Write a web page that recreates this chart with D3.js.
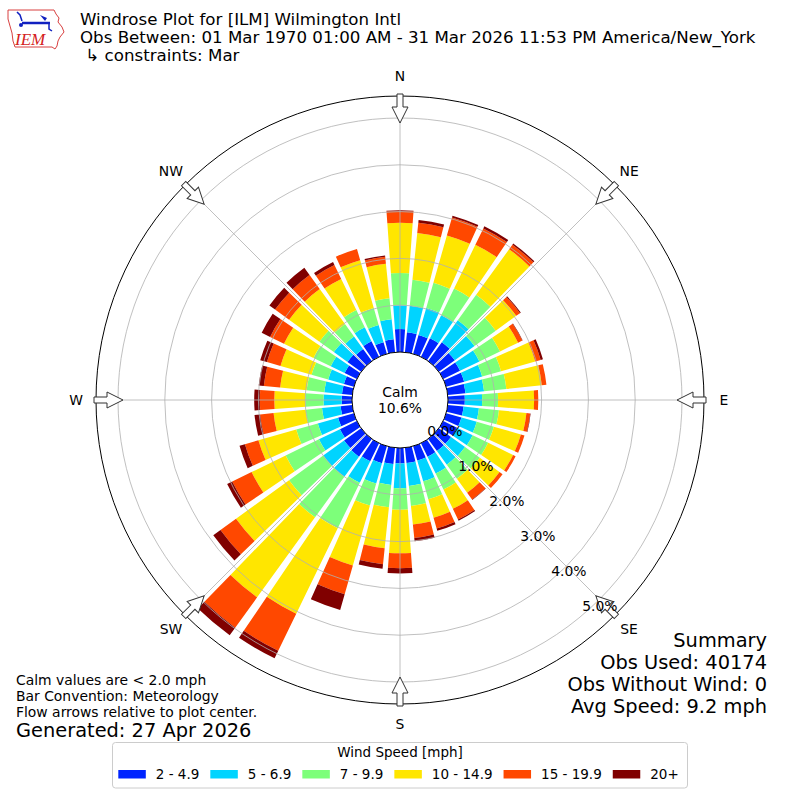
<!DOCTYPE html>
<html>
<head>
<meta charset="utf-8">
<script src="https://cdn.jsdelivr.net/npm/d3@7"></script>
<style>
  body { margin: 0; background: #fff; }
  text { font-family: "DejaVu Sans", sans-serif; fill: #000; }
</style>
</head>
<body>
<div id="chart"></div>
<script>
// direction of each bar, degrees clockwise from north
var directions = [0, 10, 20, 30, 40, 50, 60, 70, 80, 90, 100, 110, 120, 130, 140, 150, 160, 170,
                  180, 190, 200, 210, 220, 230, 240, 250, 260, 270, 280, 290, 300, 310, 320, 330, 340, 350];

var speedBins = ["2 - 4.9", "5 - 6.9", "7 - 9.9", "10 - 14.9", "15 - 19.9", "20+"];
var binColors = ["#0024ff", "#00d4ff", "#7dff7a", "#ffe600", "#ff4800", "#800000"];

// percent of observations per direction, one array per speed bin
var spd2to5   = [0.49, 0.43, 0.42, 0.44, 0.50, 0.42, 0.40, 0.40, 0.38, 0.36, 0.34, 0.34, 0.33, 0.32, 0.32, 0.32, 0.32, 0.33,
                 0.33, 0.35, 0.38, 0.43, 0.47, 0.45, 0.40, 0.35, 0.25, 0.22, 0.22, 0.22, 0.29, 0.36, 0.32, 0.37, 0.26, 0.28];
var spd5to7   = [0.51, 0.57, 0.60, 0.55, 0.58, 0.52, 0.46, 0.40, 0.40, 0.37, 0.33, 0.34, 0.37, 0.37, 0.36, 0.40, 0.46, 0.49,
                 0.53, 0.45, 0.45, 0.51, 0.53, 0.55, 0.50, 0.45, 0.40, 0.39, 0.38, 0.35, 0.33, 0.36, 0.33, 0.33, 0.38, 0.43];
var spd7to10  = [0.69, 0.56, 0.56, 0.63, 0.67, 0.56, 0.49, 0.42, 0.48, 0.34, 0.43, 0.38, 0.37, 0.39, 0.37, 0.38, 0.40, 0.43,
                 0.46, 0.48, 0.49, 1.08, 1.07, 0.90, 0.79, 0.48, 0.35, 0.39, 0.38, 0.37, 0.41, 0.38, 0.33, 0.41, 0.38, 0.45];
var spd10to15 = [1.07, 1.00, 1.05, 1.04, 1.20, 0.54, 0.43, 0.76, 0.76, 0.77, 0.59, 0.60, 0.59, 0.52, 0.37, 0.46, 0.41, 0.40,
                 0.93, 0.88, 1.33, 2.03, 2.11, 1.40, 0.81, 0.84, 0.69, 0.66, 0.57, 0.69, 0.70, 0.80, 0.92, 0.74, 1.06, 0.74];
var spd15to20 = [0.25, 0.22, 0.40, 0.39, 0.12, 0.10, 0.10, 0.12, 0.10, 0.09, 0.08, 0.08, 0.06, 0.08, 0.18, 0.25, 0.24, 0.29,
                 0.32, 0.34, 0.64, 0.88, 0.80, 0.41, 0.46, 0.30, 0.29, 0.31, 0.35, 0.30, 0.33, 0.37, 0.37, 0.33, 0.25, 0.15];
var spd20plus = [0.02, 0.06, 0.04, 0.05, 0.03, 0.02, 0.01, 0.05, 0.00, 0.00, 0.01, 0.00, 0.00, 0.00, 0.01, 0.03, 0.05, 0.07,
                 0.11, 0.10, 0.35, 0.18, 0.20, 0.19, 0.12, 0.12, 0.12, 0.12, 0.11, 0.15, 0.20, 0.15, 0.19, 0.07, 0.00, 0.03];

var ringTicks = [0, 1, 2, 3, 4, 5];
var compassLabels = ["N", "NE", "E", "SE", "S", "SW", "W", "NW"];
var compassAngles = [0, 45, 90, 135, 180, 225, 270, 315];
var calmPct = 10.6;

var titleLines = ["Windrose Plot for [ILM] Wilmington Intl",
                  "Obs Between: 01 Mar 1970 01:00 AM - 31 Mar 2026 11:53 PM America/New_York",
                  " \u21b3 constraints: Mar"];
var summaryLines = ["Summary", "Obs Used: 40174", "Obs Without Wind: 0", "Avg Speed: 9.2 mph"];
var noteLines = ["Calm values are < 2.0 mph", "Bar Convention: Meteorology", "Flow arrows relative to plot center."];
var generatedText = "Generated: 27 Apr 2026";

var W = 800, H = 800, cx = 400, cy = 400;
var rCalm = 48, rOuter = 304;
var opening = 0.82;

var svg = d3.select("#chart").append("svg")
    .attr("width", W).attr("height", H)
    .attr("xmlns", "http://www.w3.org/2000/svg");

var r = d3.scaleLinear().domain([0, 5]).range([rCalm, 282]);
var ang = d3.scaleLinear().domain([0, 360]).range([0, 2 * Math.PI]);

var keys = speedBins;
var rows = directions.map(function (d, i) {
    var o = { dir: d };
    o[keys[0]] = spd2to5[i];
    o[keys[1]] = spd5to7[i];
    o[keys[2]] = spd7to10[i];
    o[keys[3]] = spd10to15[i];
    o[keys[4]] = spd15to20[i];
    o[keys[5]] = spd20plus[i];
    return o;
});
var stacked = d3.stack().keys(keys)(rows);

var g = svg.append("g").attr("transform", "translate(" + cx + "," + cy + ")");

// bars
var halfW = ang(10) * opening / 2;
var arc = d3.arc()
    .innerRadius(function (d) { return r(d[0]); })
    .outerRadius(function (d) { return r(d[1]); })
    .startAngle(function (d) { return ang(d.data.dir) - halfW; })
    .endAngle(function (d) { return ang(d.data.dir) + halfW; });

g.selectAll("g.layer")
    .data(stacked)
    .enter().append("g")
    .attr("class", "layer")
    .attr("fill", function (d, i) { return binColors[i]; })
    .selectAll("path")
    .data(function (d) { return d; })
    .enter().append("path")
    .attr("d", arc);

// grid
g.selectAll("circle.grid")
    .data(ringTicks.slice(1))
    .enter().append("circle")
    .attr("class", "grid")
    .attr("r", function (d) { return r(d); })
    .attr("fill", "none")
    .attr("stroke", "#b0b0b0")
    .attr("stroke-width", 0.8);

g.selectAll("line.spoke")
    .data(compassAngles)
    .enter().append("line")
    .attr("class", "spoke")
    .attr("x1", 0).attr("y1", 0)
    .attr("x2", function (d) { return rOuter * Math.sin(ang(d)); })
    .attr("y2", function (d) { return -rOuter * Math.cos(ang(d)); })
    .attr("stroke", "#b0b0b0")
    .attr("stroke-width", 0.8);

g.append("circle")
    .attr("r", rOuter)
    .attr("fill", "none")
    .attr("stroke", "#000")
    .attr("stroke-width", 1);

// calm circle
g.append("circle")
    .attr("r", rCalm)
    .attr("fill", "#fff")
    .attr("stroke", "#000")
    .attr("stroke-width", 1);
g.append("text").attr("text-anchor", "middle").attr("y", -3)
    .style("font-size", "13.9px").text("Calm");
g.append("text").attr("text-anchor", "middle").attr("y", 13)
    .style("font-size", "13.9px").text(calmPct.toFixed(1) + "%");

// compass labels
g.selectAll("text.clab")
    .data(compassLabels)
    .enter().append("text")
    .attr("class", "clab")
    .attr("text-anchor", "middle")
    .attr("x", function (d, i) { return 324 * Math.sin(ang(compassAngles[i])); })
    .attr("y", function (d, i) { return -324 * Math.cos(ang(compassAngles[i])) + 5; })
    .style("font-size", "13.9px")
    .text(function (d) { return d; });

// flow arrows
var arrowPath = "M-3,-306 L3,-306 L3,-293 L8,-293 L0,-277 L-8,-293 L-3,-293 Z";
g.selectAll("path.arrow")
    .data(compassAngles)
    .enter().append("path")
    .attr("class", "arrow")
    .attr("d", arrowPath)
    .attr("transform", function (d) { return "rotate(" + d + ")"; })
    .attr("fill", "#fff")
    .attr("stroke", "#333")
    .attr("stroke-width", 1);

// ring labels (on top of the arrows)
var labAng = ang(138.5);
g.selectAll("text.rlab")
    .data(ringTicks)
    .enter().append("text")
    .attr("class", "rlab")
    .attr("x", function (d) { return (r(d) - 7) * Math.sin(labAng); })
    .attr("y", function (d) { return -(r(d) - 7) * Math.cos(labAng) + 5; })
    .style("font-size", "13.9px")
    .text(function (d) { return d.toFixed(1) + "%"; });

// title
svg.selectAll("text.title")
    .data(titleLines)
    .enter().append("text")
    .attr("class", "title")
    .attr("x", 80)
    .attr("y", function (d, i) { return 25 + i * 18; })
    .style("font-size", "16.67px")
    .attr("xml:space", "preserve")
    .text(function (d) { return d; });

// logo (rough)
var logo = svg.append("g").attr("class", "logo");
logo.append("path")
    .attr("d", "M8,10 L54,10 L56,14 L59,18 L58,22 L62,27 L64,32 L60,37 L58,41 L57,46 L55,49 " +
               "L52,47 L15,47 L13,41 L12,33 L10,26 L8,19 Z")
    .attr("fill", "none").attr("stroke", "#d84040").attr("stroke-width", 1);
logo.append("line").attr("x1", 22).attr("y1", 23).attr("x2", 50).attr("y2", 23)
    .attr("stroke", "#1020c0").attr("stroke-width", 2.5);
logo.append("path").attr("d", "M17,12 L20,15 L22,21").attr("fill", "none")
    .attr("stroke", "#1020c0").attr("stroke-width", 1.5);
logo.append("path").attr("d", "M40,15 L47,18 L45,21 Z").attr("fill", "#1020c0");
logo.append("path").attr("d", "M49,23 L49,29 L52,31").attr("fill", "none")
    .attr("stroke", "#1020c0").attr("stroke-width", 1.5);
logo.append("circle").attr("cx", 21).attr("cy", 25).attr("r", 2).attr("fill", "#1020c0");
logo.append("text").attr("x", 15).attr("y", 45)
    .style("font-family", "'Liberation Serif', serif")
    .style("font-style", "italic")
    .style("font-size", "17px")
    .style("fill", "#d42020")
    .text("IEM");

// summary
svg.selectAll("text.summ")
    .data(summaryLines)
    .enter().append("text")
    .attr("class", "summ")
    .attr("text-anchor", "end")
    .attr("x", 767)
    .attr("y", function (d, i) { return 647 + i * 22; })
    .style("font-size", "19.4px")
    .text(function (d) { return d; });

// notes
svg.selectAll("text.note")
    .data(noteLines)
    .enter().append("text")
    .attr("class", "note")
    .attr("x", 16)
    .attr("y", function (d, i) { return 685 + i * 16; })
    .style("font-size", "13.9px")
    .text(function (d) { return d; });
svg.append("text").attr("x", 16).attr("y", 737)
    .style("font-size", "19.4px").text(generatedText);

// legend
var leg = svg.append("g").attr("class", "legend");
leg.append("rect")
    .attr("x", 112.5).attr("y", 742.5).attr("width", 575).attr("height", 45.5)
    .attr("rx", 3).attr("fill", "#fff").attr("stroke", "#ccc");
leg.append("text").attr("x", 400).attr("y", 757).attr("text-anchor", "middle")
    .style("font-size", "13.5px").text("Wind Speed [mph]");

var items = leg.selectAll("g.item").data(speedBins).enter().append("g").attr("class", "item");
items.append("rect").attr("width", 27.5).attr("height", 8.5).attr("y", 770)
    .attr("fill", function (d, i) { return binColors[i]; });
var itemText = items.append("text").attr("y", 779)
    .style("font-size", "13.5px").text(function (d) { return d; });
var widths = [];
itemText.each(function () { widths.push(this.getComputedTextLength()); });
var xPos = 118.3;
items.each(function (d, i) {
    d3.select(this).select("rect").attr("x", xPos);
    d3.select(this).select("text").attr("x", xPos + 37.5);
    xPos += 37.5 + widths[i] + 11;
});
</script>
</body>
</html>
